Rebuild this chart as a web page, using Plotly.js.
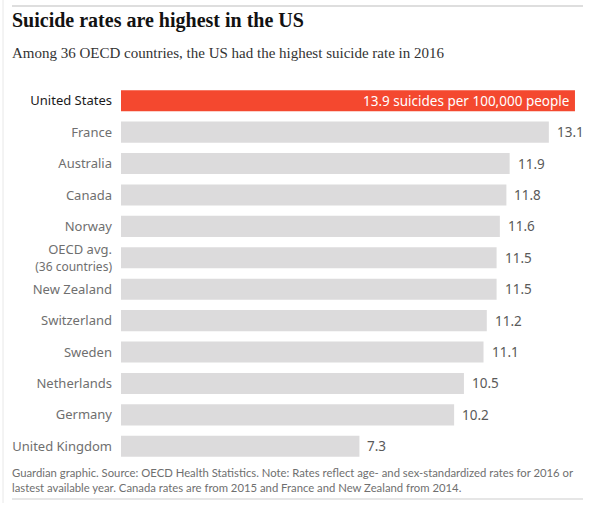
<!DOCTYPE html>
<html>
<head>
<meta charset="utf-8">
<script src="https://cdn.plot.ly/plotly-3.0.1.min.js"></script>
<style>
  html, body { margin: 0; padding: 0; background: #fff; }
  #chart { width: 595px; height: 511px; }
</style>
</head>
<body>
<div id="chart"></div>
<script>
// Suicide rates per 100,000 people (age- and sex-standardized), OECD Health Statistics
const countries = [
  "United States", "France", "Australia", "Canada", "Norway", "OECD avg.",
  "New Zealand", "Switzerland", "Sweden", "Netherlands", "Germany", "United Kingdom"
];
const rates = [13.9, 13.1, 11.9, 11.8, 11.6, 11.5, 11.5, 11.2, 11.1, 10.5, 10.2, 7.3];
const highlight = "United States";
const averageNote = "(36 countries)";
const highlightLabel = " suicides per 100,000 people";

// Canvas geometry (pixels)
const W = 595, H = 511;
const M = { l: 121, r: 12, t: 85, b: 49 };
const plotW = W - M.l - M.r, plotH = H - M.t - M.b;
const px = x => (x - M.l) / plotW;          // pixel x -> paper x
const py = y => (H - M.b - y) / plotH;      // pixel y -> paper y

const barColors = countries.map(c => c === highlight ? "#f4482f" : "#dcdbdc");

const tickText = countries.map(c => {
  if (c === highlight) return `<span style="color:#1a1a1a">${c}</span>`;
  if (c === "OECD avg.") return `${c}<br><span style="font-size:12px">${averageNote}</span>`;
  return c;
});

const valueLabels = countries.map((c, i) => {
  if (c === highlight) {
    return {
      x: rates[i], y: c, xref: "x", yref: "y",
      text: rates[i].toFixed(1) + highlightLabel,
      showarrow: false, xanchor: "right", xshift: -4,
      font: { family: "Noto Sans, sans-serif", size: 13.5, color: "#ffffff" }
    };
  }
  return {
    x: rates[i], y: c, xref: "x", yref: "y",
    text: rates[i].toFixed(1),
    showarrow: false, xanchor: "left", xshift: 6,
    font: { family: "Noto Sans, sans-serif", size: 13.5, color: "#5a5a5a" }
  };
});

const data = [{
  type: "bar",
  orientation: "h",
  x: rates,
  y: countries,
  marker: { color: barColors },
  hoverinfo: "skip"
}];

const layout = {
  width: W, height: H,
  margin: M,
  paper_bgcolor: "#ffffff",
  plot_bgcolor: "#ffffff",
  showlegend: false,
  bargap: 0.33,
  title: {
    text: "<b>Suicide rates are highest in the US</b>",
    xref: "container", yref: "container",
    x: 12 / W, xanchor: "left",
    y: 1 - 13 / H, yanchor: "top",
    font: { family: "Liberation Serif, serif", size: 20, color: "#121212" }
  },
  xaxis: {
    range: [0, plotW / 32.66],
    visible: false,
    fixedrange: true
  },
  yaxis: {
    type: "category",
    autorange: "reversed",
    tickmode: "array",
    tickvals: countries,
    ticktext: tickText,
    ticks: "",
    showline: false,
    showgrid: false,
    zeroline: false,
    ticklabelstandoff: 8,
    tickfont: { family: "Noto Sans, sans-serif", size: 13, color: "#6f6f6f" },
    fixedrange: true
  },
  annotations: [
    {
      xref: "paper", yref: "paper", x: px(11), y: py(53),
      xanchor: "left", yanchor: "middle", showarrow: false, borderpad: 0,
      text: "Among 36 OECD countries, the US had the highest suicide rate in 2016",
      font: { family: "Liberation Serif, serif", size: 15, color: "#333333" }
    },
    {
      xref: "paper", yref: "paper", x: px(11), y: py(465),
      xanchor: "left", yanchor: "top", align: "left", showarrow: false, borderpad: 0,
      text: "Guardian graphic. Source: OECD Health Statistics. Note: Rates reflect age- and sex-standardized rates for 2016 or<br>lastest available year. Canada rates are from 2015 and France and New Zealand from 2014.",
      font: { family: "Lato, sans-serif", size: 11.3, color: "#6f6f6f" }
    },
    ...valueLabels
  ],
  shapes: [
    { type: "line", xref: "paper", yref: "paper", x0: px(12), x1: px(583), y0: py(6), y1: py(6),
      line: { color: "#dedede", width: 2 } },
    { type: "line", xref: "paper", yref: "paper", x0: px(12), x1: px(583), y0: py(499), y1: py(499),
      line: { color: "#dedede", width: 1.5 } },
    { type: "line", xref: "paper", yref: "paper", x0: px(3), x1: px(3), y0: py(0), y1: py(503),
      line: { color: "#e8e8e8", width: 1 } }
  ]
};

Plotly.newPlot("chart", data, layout, { displayModeBar: false, staticPlot: true });
</script>
</body>
</html>
